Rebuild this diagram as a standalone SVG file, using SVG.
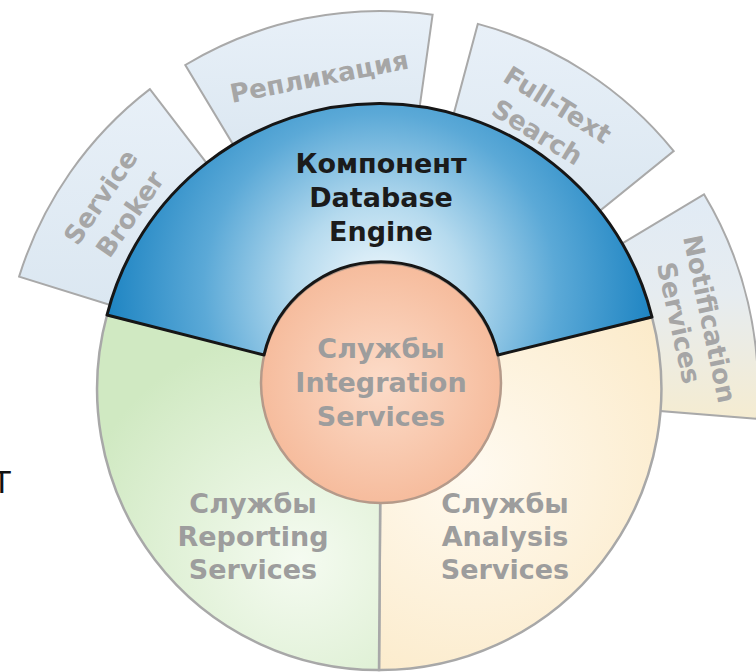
<svg xmlns="http://www.w3.org/2000/svg" width="756" height="672" viewBox="0 0 756 672">
<defs>
  <linearGradient id="tabGrad" x1="0" y1="0" x2="0" y2="1">
    <stop offset="0" stop-color="#e8f0f8"/>
    <stop offset="1" stop-color="#dbe7f1"/>
  </linearGradient>
  <linearGradient id="notifGrad" gradientUnits="userSpaceOnUse" x1="700" y1="194" x2="700" y2="419">
    <stop offset="0" stop-color="#e1ebf5"/>
    <stop offset="0.45" stop-color="#e6ecf0"/>
    <stop offset="1" stop-color="#f5ecd1"/>
  </linearGradient>
  <radialGradient id="blueGrad" gradientUnits="userSpaceOnUse" cx="380" cy="290" r="285">
    <stop offset="0" stop-color="#f2f9fd"/>
    <stop offset="0.3" stop-color="#b5daee"/>
    <stop offset="0.62" stop-color="#5ba9d7"/>
    <stop offset="1" stop-color="#1780c0"/>
  </radialGradient>
  <radialGradient id="greenGrad" gradientUnits="userSpaceOnUse" cx="300" cy="560" r="230">
    <stop offset="0" stop-color="#f5fbf1"/>
    <stop offset="1" stop-color="#d0e9c2"/>
  </radialGradient>
  <radialGradient id="yellowGrad" gradientUnits="userSpaceOnUse" cx="470" cy="470" r="260">
    <stop offset="0" stop-color="#fffaf0"/>
    <stop offset="1" stop-color="#fbe9c6"/>
  </radialGradient>
  <radialGradient id="innerGrad" gradientUnits="userSpaceOnUse" cx="381" cy="383" r="120">
    <stop offset="0" stop-color="#fcdcc9"/>
    <stop offset="1" stop-color="#f6bc9d"/>
  </radialGradient>
</defs>
<style>
  .tab { stroke: #a9a9a9; stroke-width: 2; }
  .tabtxt { font-family: "DejaVu Sans", Verdana, sans-serif; font-weight: bold; font-size: 26px; fill: #a6a6a6; text-anchor: middle; }
  .lbl { font-family: "DejaVu Sans", Verdana, sans-serif; font-weight: bold; font-size: 27px; fill: #9d9d9d; text-anchor: middle; }
  .dark { fill: #1b1b1b; }
  .seg { stroke: #a8a8a8; stroke-width: 2.5; }
</style>

<g id="tab-service-broker">
  <path class="tab" fill="url(#tabGrad)" d="M149.9,89.1 A378,378 0 0 0 19.1,276.6 L117.4,307.2 A275,275 0 0 1 212.6,170.8 Z"/>
  <text class="tabtxt" transform="translate(108.1,202.1) rotate(-55.5)">Service</text>
  <text class="tabtxt" transform="translate(137.5,219.2) rotate(-55)">Broker</text>
</g>
<g id="tab-replication">
  <path class="tab" fill="url(#tabGrad)" d="M432.6,14.7 A378,378 0 0 0 185.3,65 L238.4,153.3 A275,275 0 0 1 418.3,116.7 Z"/>
  <text class="tabtxt" transform="translate(321,85.7) rotate(-11)">Репликация</text>
</g>
<g id="tab-fulltext">
  <path class="tab" fill="url(#tabGrad)" d="M673.7,151.1 A378,378 0 0 0 477.8,23.9 L451.2,123.4 A275,275 0 0 1 593.7,215.9 Z"/>
  <text class="tabtxt" transform="translate(552.8,112.5) rotate(32)">Full-Text</text>
  <text class="tabtxt" transform="translate(532.6,140) rotate(31.5)">Search</text>
</g>
<g id="tab-notification">
  <path class="tab" fill="url(#notifGrad)" d="M756.8,418.7 A378,378 0 0 0 704,194.3 L615.7,247.4 A275,275 0 0 1 654.1,410.6 Z"/>
  <text class="tabtxt" transform="translate(700.8,320.8) rotate(78)">Notification</text>
  <text class="tabtxt" transform="translate(670,324.7) rotate(77.5)">Services</text>
</g>

<g id="analysis-services">
  <path class="seg" fill="url(#yellowGrad)" d="M381,383 L652,317 A281,281 0 0 1 379,670 Z"/>
  <text class="lbl" x="505" y="513">Службы</text>
  <text class="lbl" x="505" y="546">Analysis</text>
  <text class="lbl" x="505" y="579">Services</text>
</g>
<g id="reporting-services">
  <path class="seg" fill="url(#greenGrad)" d="M381,383 L107,315 A281,281 0 0 0 379,670 Z"/>
  <text class="lbl" x="253" y="513">Службы</text>
  <text class="lbl" x="253" y="546">Reporting</text>
  <text class="lbl" x="253" y="579">Services</text>
</g>
<g id="integration-services">
  <circle cx="381" cy="383" r="120" fill="url(#innerGrad)" stroke="#b59a8a" stroke-width="2.5"/>
  <text class="lbl" x="381" y="358">Службы</text>
  <text class="lbl" x="381" y="392">Integration</text>
  <text class="lbl" x="381" y="426">Services</text>
</g>
<g id="database-engine">
  <path fill="url(#blueGrad)" stroke="#161616" stroke-width="3" stroke-linejoin="round" d="M107,315 A281,281 0 0 1 652,317 L498,355 A120,120 0 0 0 264,355 Z"/>
  <text class="lbl dark" x="381" y="173">Компонент</text>
  <text class="lbl dark" x="381" y="207">Database</text>
  <text class="lbl dark" x="381" y="241">Engine</text>
</g>

<g id="connectors"></g>

<text x="-8" y="493" font-family="Liberation Sans, Arial, sans-serif" font-size="32" fill="#111111">T</text>
</svg>
